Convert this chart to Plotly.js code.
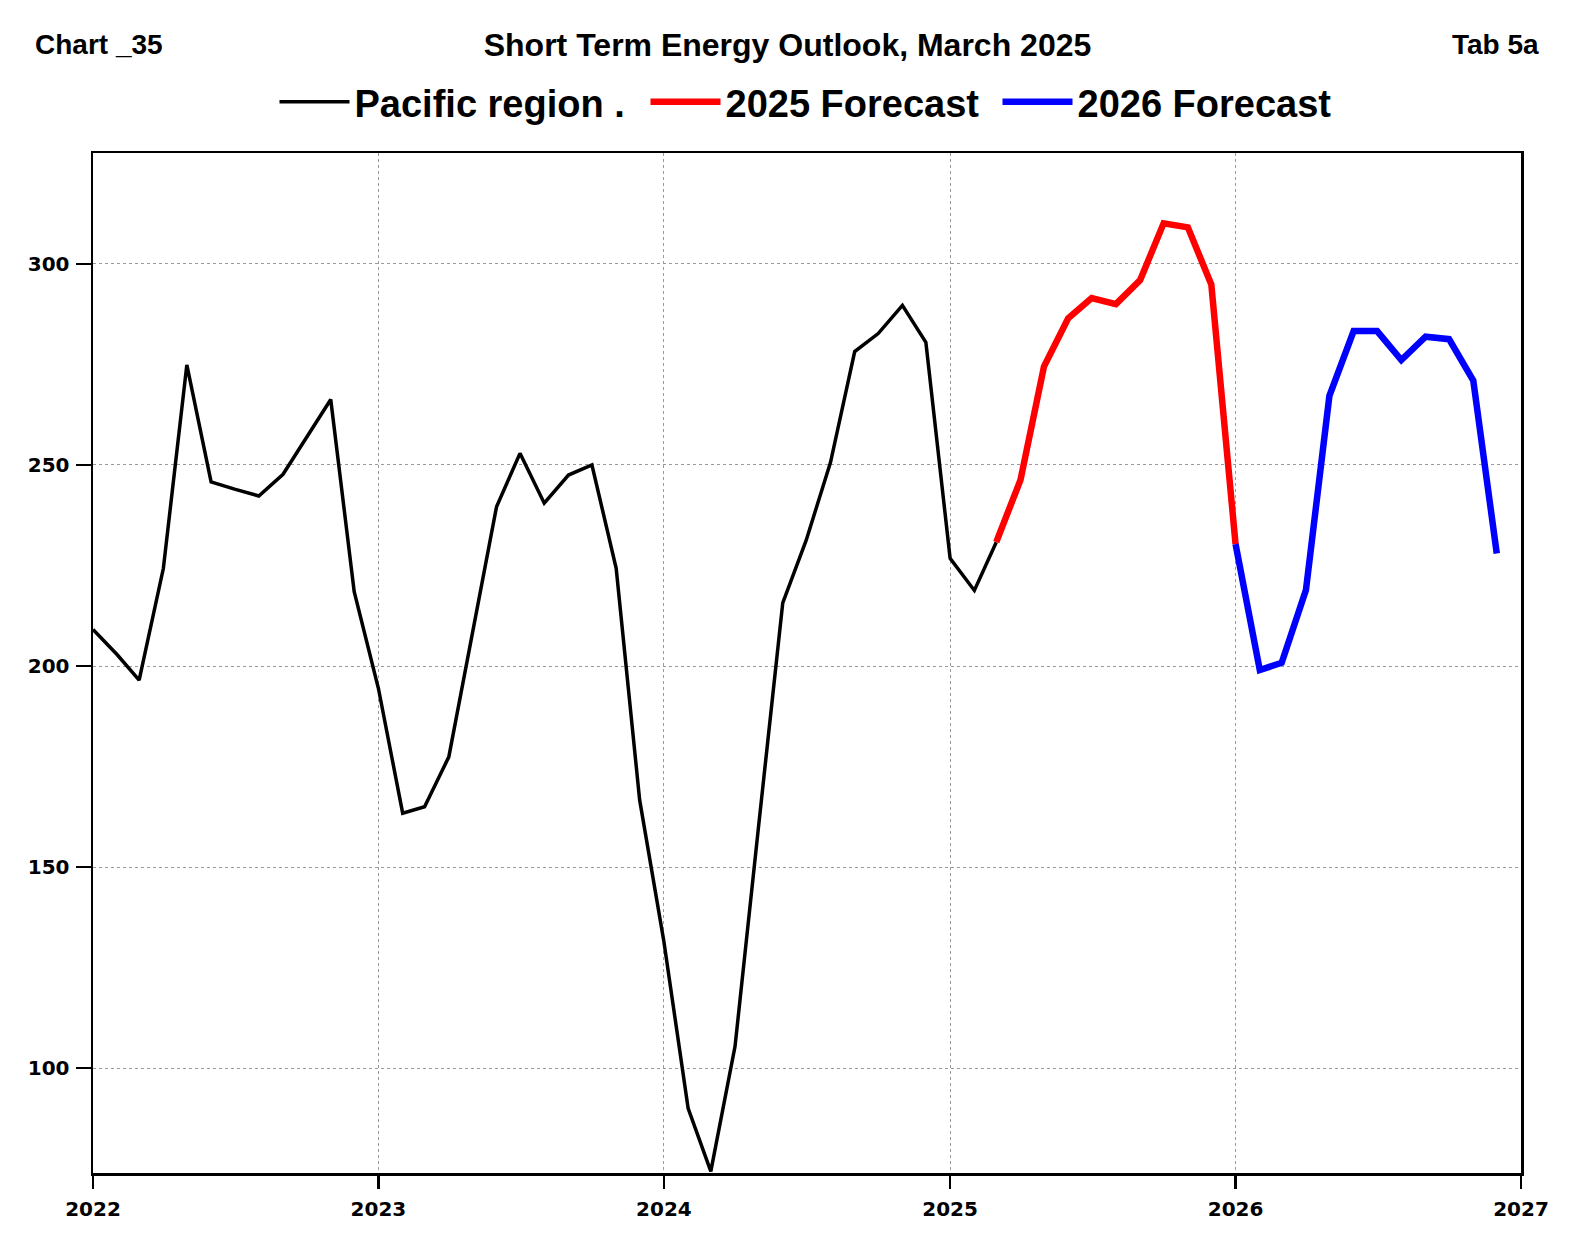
<!DOCTYPE html>
<html>
<head>
<meta charset="utf-8">
<script src="https://cdn.plot.ly/plotly-3.0.1.min.js"></script>
<style>
  html, body { margin: 0; padding: 0; background: #fff; }
  #chart { width: 1575px; height: 1260px; }
</style>
</head>
<body>
<div id="chart"></div>
<script>
// ---- Data ----
const histMonths = [
  "2022-01-01","2022-02-01","2022-03-01","2022-04-01","2022-05-01","2022-06-01",
  "2022-07-01","2022-08-01","2022-09-01","2022-10-01","2022-11-01","2022-12-01",
  "2023-01-01","2023-02-01","2023-03-01","2023-04-01","2023-05-01","2023-06-01",
  "2023-07-01","2023-08-01","2023-09-01","2023-10-01","2023-11-01","2023-12-01",
  "2024-01-01","2024-02-01","2024-03-01","2024-04-01","2024-05-01","2024-06-01",
  "2024-07-01","2024-08-01","2024-09-01","2024-10-01","2024-11-01","2024-12-01",
  "2025-01-01","2025-02-01","2025-03-01"
];
const pacificValues = [
  209.1, 202.8, 196.5, 224.3, 274.9, 245.8, 244.0, 242.3, 247.7, 257.0, 266.3, 218.5,
  194.4, 163.4, 165.0, 177.4, 208.3, 239.6, 252.9, 240.5, 247.5, 250.0, 224.3, 166.7,
  131.5, 90.0, 74.3, 105.4, 160.0, 215.7, 231.3, 250.6, 278.2, 282.7, 289.7, 280.5,
  226.8, 218.8, 230.8
];

const forecast2025Months = [
  "2025-03-01","2025-04-01","2025-05-01","2025-06-01","2025-07-01","2025-08-01",
  "2025-09-01","2025-10-01","2025-11-01","2025-12-01","2026-01-01"
];
const forecast2025Values = [230.8, 246.3, 274.5, 286.5, 291.5, 290.0, 296.0, 310.1, 309.1, 294.9, 230.3];

const forecast2026Months = [
  "2026-01-01","2026-02-01","2026-03-01","2026-04-01","2026-05-01","2026-06-01",
  "2026-07-01","2026-08-01","2026-09-01","2026-10-01","2026-11-01","2026-12-01"
];
const forecast2026Values = [230.3, 199.0, 200.8, 218.9, 267.2, 283.3, 283.3, 276.1, 281.9, 281.3, 271.0, 228.0];

const seriesNames = ["Pacific region .", "2025 Forecast", "2026 Forecast"];
const xTickVals = ["2022-01-01","2023-01-01","2024-01-01","2025-01-01","2026-01-01","2027-01-01"];
const xTickText = ["2022","2023","2024","2025","2026","2027"];
const yTickVals = [100, 150, 200, 250, 300];

const titleText = "Short Term Energy Outlook, March 2025";
const leftNote = "Chart _35";
const rightNote = "Tab 5a";

// ---- Geometry of the plot area (pixels) ----
const W = 1575, H = 1260;
const M = { l: 93, r: 54, t: 153, b: 87 };
const plotW = W - M.l - M.r, plotH = H - M.t - M.b;

// ---- Traces ----
const traces = [
  { type: "scatter", mode: "lines", name: seriesNames[0], x: histMonths, y: pacificValues,
    line: { color: "#000000", width: 3.5 }, legendwidth: 286 },
  { type: "scatter", mode: "lines", name: seriesNames[1], x: forecast2025Months, y: forecast2025Values,
    line: { color: "#ff0000", width: 6.5 }, legendwidth: 267 },
  { type: "scatter", mode: "lines", name: seriesNames[2], x: forecast2026Months, y: forecast2026Values,
    line: { color: "#0000ff", width: 6.5 }, legendwidth: 257 }
];

const tickFont = { family: "DejaVu Sans, Verdana, sans-serif", size: 20, color: "#000", weight: "bold" };
const textFamily = "Liberation Sans, Arial, sans-serif";

const layout = {
  width: W, height: H,
  paper_bgcolor: "#ffffff", plot_bgcolor: "#ffffff",
  margin: { l: M.l, r: M.r, t: M.t, b: M.b, pad: 0 },
  title: {
    text: titleText,
    font: { family: textFamily, size: 32, color: "#000", weight: "bold" },
    xref: "container", x: 0.5, xanchor: "center",
    yref: "container", y: 1 - 45 / H, yanchor: "middle"
  },
  showlegend: true,
  legend: {
    orientation: "h",
    x: 0.5, xanchor: "center",
    y: 1 + (M.t - 102) / plotH, yanchor: "middle",
    font: { family: textFamily, size: 38, color: "#000", weight: "bold" },
    bgcolor: "rgba(0,0,0,0)",
    itemwidth: 70
  },
  xaxis: {
    type: "date",
    range: ["2022-01-01", "2027-01-01"],
    tickmode: "array", tickvals: xTickVals, ticktext: xTickText,
    ticks: "outside", ticklen: 13, tickwidth: 2.5, tickcolor: "#000",
    tickfont: tickFont,
    ticklabelstandoff: 3,
    showline: true, linecolor: "#000", linewidth: 2.5, mirror: true,
    showgrid: true, gridcolor: "#9a9a9a", gridwidth: 1, griddash: "dot",
    zeroline: false, fixedrange: true
  },
  yaxis: {
    range: [73.9, 327.6],
    tickmode: "array", tickvals: yTickVals,
    ticks: "outside", ticklen: 15, tickwidth: 2.5, tickcolor: "#000",
    tickfont: tickFont,
    ticklabelstandoff: 2,
    showline: true, linecolor: "#000", linewidth: 2.5, mirror: true,
    showgrid: true, gridcolor: "#9a9a9a", gridwidth: 1, griddash: "dot",
    zeroline: false, fixedrange: true
  },
  annotations: [
    { text: leftNote, xref: "paper", yref: "paper",
      x: (33 - M.l) / plotW, y: (H - M.b - 45) / plotH, xanchor: "left", yanchor: "middle",
      showarrow: false, font: { family: textFamily, size: 28, color: "#000", weight: "bold" } },
    { text: rightNote, xref: "paper", yref: "paper",
      x: (1541 - M.l) / plotW, y: (H - M.b - 45) / plotH, xanchor: "right", yanchor: "middle",
      showarrow: false, font: { family: textFamily, size: 28, color: "#000", weight: "bold" } }
  ]
};

Plotly.newPlot("chart", traces, layout, { displayModeBar: false, staticPlot: true });
</script>
</body>
</html>
